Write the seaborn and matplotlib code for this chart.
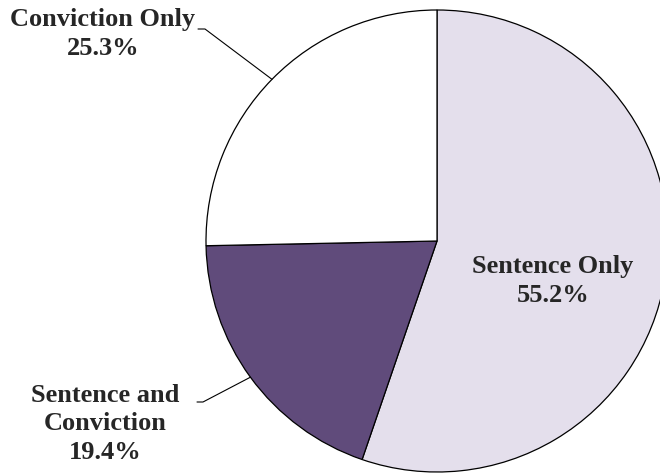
import numpy as np
import matplotlib
matplotlib.use("Agg")
import matplotlib.pyplot as plt
import seaborn as sns

categories = ["Sentence Only", "Sentence and\nConviction", "Conviction Only"]
values = [55.2, 19.4, 25.3]
colors = ["#E4DFEC", "#604B7B", "#FFFFFF"]

sns.set_theme(style="white")
plt.rcParams['font.family'] = ['Liberation Serif', 'DejaVu Serif']

W, H = 660, 474
fig = plt.figure(figsize=(6.6, 4.74), dpi=100)
ax = fig.add_axes([0, 0, 1, 1])

cx, cy, R = 437, H - 241, 231
wedges, _ = ax.pie(values, colors=colors, startangle=90, counterclock=False,
                   center=(cx, cy), radius=R, frame=True,
                   wedgeprops=dict(edgecolor="black", linewidth=0.9))
ax.set_xlim(0, W)
ax.set_ylim(0, H)
ax.axis("off")

fs = 19
ls = 1.3
# Sentence Only inside label
ax.text(553, H - 281, f"{categories[0]}\n{values[0]}%", ha="center", va="center",
        fontsize=fs, fontweight="bold", linespacing=ls)

def mid_point(w):
    a = np.deg2rad((w.theta1 + w.theta2) / 2)
    return cx + R * np.cos(a), cy + R * np.sin(a)

# Conviction Only
px, py = mid_point(wedges[2])
ax.text(103, H - 34, f"{categories[2]}\n{values[2]}%", ha="center", va="center",
        fontsize=fs, fontweight="bold", linespacing=ls)
ax.plot([198, 205, px], [H - 29, H - 29, py], color="black", lw=0.8)

# Sentence and Conviction
px, py = mid_point(wedges[1])
ax.text(105, H - 424, f"{categories[1]}\n{values[1]}%", ha="center", va="center",
        fontsize=fs, fontweight="bold", linespacing=ls)
ax.plot([197, 203, px], [H - 402, H - 402, py], color="black", lw=0.8)

fig.savefig("out.png", dpi=100)
